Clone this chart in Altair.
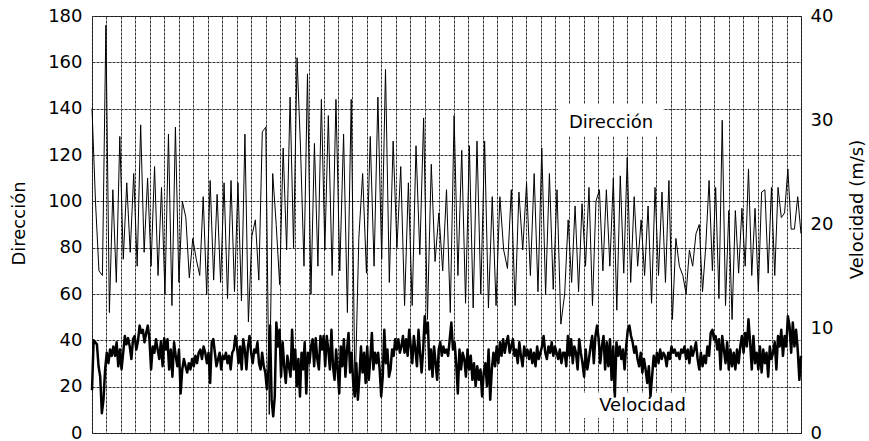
import altair as alt
import pandas as pd

# ---------------- data ----------------
# Dirección (left axis, degrees) - six consecutive stretches of equal duration
dir_seg1 = [140, 100, 70, 68, 176, 52, 105, 65, 128, 75, 108, 78, 112, 72, 133, 78, 110, 72,
            115, 68, 106, 60, 129, 55, 132, 65, 100, 93, 67, 84, 75, 68, 102, 60]
dir_seg2 = [109, 66, 103, 65, 108, 58, 109, 61, 108, 57, 129, 48, 85, 92, 66, 130, 132, 8,
            112, 90, 64, 123, 79, 145, 80, 162, 123, 72, 155, 60, 125, 72, 144, 79]
dir_seg3 = [137, 68, 144, 70, 129, 52, 144, 16, 84, 112, 69, 128, 72, 145, 75, 157, 65, 126,
            80, 115, 55, 108, 55, 124, 77, 136, 49, 116, 74, 95, 70]
dir_seg4 = [105, 52, 137, 68, 122, 56, 124, 54, 126, 60, 126, 54, 102, 55, 102, 79, 71, 105,
            55, 104, 79, 108, 68, 112, 61, 123, 60, 112, 62, 105, 47]
dir_seg5 = [60, 92, 65, 98, 61, 99, 72, 106, 55, 100, 105, 70, 105, 72, 110, 53, 111, 69, 119,
            65, 102, 72, 92, 68, 98, 56, 106, 68, 104, 65, 109, 49, 84, 72]
dir_seg6 = [68, 60, 79, 72, 86, 90, 61, 81, 109, 70, 106, 58, 135, 55, 96, 49, 96, 69, 97, 72,
            114, 68, 97, 61, 104, 105, 69, 106, 68, 106, 93, 95, 114, 88, 88, 102, 86]

# Velocidad (right axis, m/s) - same six stretches
vel_seg1 = [4.1, 8.9, 8.7, 8.5, 6.4, 5.4, 1.9, 3.2, 6.1, 7.7, 6.7, 8.0, 7.4, 8.3, 7.4, 8.7, 6.4,
            8.0, 6.1, 7.7, 9.3, 8.5, 9.1, 8.3, 7.1, 9.0, 9.3, 8.0, 8.8, 10.3, 9.6, 9.9, 8.7, 9.6,
            10.3, 9.0, 6.1, 8.3, 7.7, 9.0, 8.0, 7.1, 8.8, 6.4, 9.1, 8.0, 9.0, 6.1, 8.0, 5.4, 8.7,
            7.4, 6.4, 8.0, 3.8, 6.1, 7.1, 6.4, 5.8, 6.7, 6.1, 7.1, 6.4, 7.4, 6.7, 7.7, 8.0, 7.1,
            8.3, 7.7, 6.7, 7.7]
vel_seg2 = [4.8, 8.7, 9.0, 7.7, 6.4, 7.1, 7.7, 6.1, 7.4, 7.1, 7.7, 6.7, 7.4, 6.1, 7.7, 8.0, 9.3,
            8.3, 6.7, 8.3, 6.1, 9.0, 8.0, 6.1, 8.3, 9.3, 7.7, 6.7, 8.0, 7.7, 8.7, 6.7, 6.1, 7.7,
            6.4, 5.8, 4.2, 6.1, 10.3, 3.2, 1.6, 3.5, 10.6, 8.3, 9.9, 5.4, 8.7, 6.4, 4.8, 7.4, 6.4,
            5.4, 9.9, 6.1, 8.0, 4.5, 7.1, 3.5, 7.7, 6.1, 8.7, 3.8, 7.7, 6.7, 8.3, 9.0, 6.4, 9.1,
            7.1, 6.1, 9.3, 8.0, 9.3, 6.4, 9.3]
vel_seg3 = [8.0, 6.1, 9.9, 6.4, 5.1, 8.0, 6.1, 3.8, 8.3, 6.4, 9.0, 5.4, 8.0, 9.6, 5.8, 7.7, 4.8,
            3.5, 6.7, 3.2, 5.4, 8.3, 5.8, 7.7, 4.8, 8.3, 5.1, 7.1, 9.6, 6.1, 7.7, 6.7, 7.7, 6.1,
            3.5, 5.4, 9.9, 6.7, 8.0, 5.4, 6.1, 8.0, 7.4, 9.0, 8.0, 9.0, 7.7, 8.3, 9.3, 7.7, 9.0,
            7.4, 9.9, 8.3, 6.7, 9.3, 8.0, 6.4, 9.9, 7.7, 5.8, 8.0, 11.2, 9.6, 10.6, 6.1, 8.0, 5.4,
            8.3, 6.7, 5.1, 8.0, 8.7, 7.4, 8.3, 7.7]
vel_seg4 = [8.0, 7.4, 9.0, 10.6, 8.0, 8.7, 6.7, 3.8, 8.0, 6.1, 7.7, 7.1, 5.4, 8.0, 6.1, 7.4, 5.1,
            6.7, 4.5, 6.4, 5.1, 6.1, 3.5, 5.8, 6.7, 4.5, 8.0, 3.2, 6.1, 7.7, 6.4, 8.3, 6.7, 8.7,
            7.4, 9.0, 7.7, 8.7, 9.3, 7.7, 8.3, 9.0, 7.4, 8.0, 6.7, 8.7, 7.4, 6.4, 8.3, 7.4, 8.0,
            7.1, 8.0, 6.7, 7.7, 6.4, 8.3, 7.1, 7.7, 8.3, 9.3, 7.7, 7.1, 8.3, 7.7, 8.7, 7.4, 8.3,
            7.7, 7.1, 8.0, 6.7, 7.7]
vel_seg5 = [7.7, 6.4, 9.3, 7.4, 9.0, 6.7, 8.3, 7.7, 6.1, 9.0, 7.7, 6.7, 5.4, 8.0, 6.1, 7.1, 8.3,
            9.3, 6.7, 9.3, 10.3, 9.0, 6.7, 8.3, 9.3, 6.1, 8.7, 6.4, 9.0, 5.1, 8.3, 3.5, 8.7, 7.4,
            8.3, 7.1, 8.0, 6.1, 8.3, 9.9, 10.3, 9.3, 8.7, 7.7, 8.3, 7.1, 6.4, 7.7, 5.8, 7.1, 6.1,
            4.8, 6.4, 3.5, 5.4, 7.4, 6.4, 7.7, 6.7, 8.0, 7.1, 7.7, 7.4, 6.4, 7.7, 7.1, 8.3, 7.7,
            8.0, 7.4, 7.7, 7.1, 8.0]
vel_seg6 = [7.7, 8.3, 7.1, 8.0, 6.7, 8.3, 7.4, 8.0, 8.7, 7.1, 6.1, 7.7, 6.4, 7.4, 6.7, 8.3, 7.4,
            9.6, 9.9, 9.0, 9.3, 8.0, 9.0, 6.1, 9.3, 8.0, 6.7, 8.7, 6.1, 8.0, 6.4, 7.7, 6.1, 8.0,
            6.7, 8.3, 9.3, 7.7, 9.6, 8.3, 10.9, 8.7, 6.1, 9.3, 6.7, 7.7, 6.1, 8.3, 5.8, 8.0, 6.7,
            7.7, 5.4, 8.3, 7.1, 7.7, 8.7, 6.1, 9.3, 8.3, 9.9, 7.4, 9.3, 8.3, 11.2, 10.3, 7.7,
            10.6, 8.3, 9.9, 8.0, 5.1, 7.4]

dir_segments = [dir_seg1, dir_seg2, dir_seg3, dir_seg4, dir_seg5, dir_seg6]
vel_segments = [vel_seg1, vel_seg2, vel_seg3, vel_seg4, vel_seg5, vel_seg6]

T_TOTAL = 49  # number of grid intervals along the time axis

y_left_ticks = [0, 20, 40, 60, 80, 100, 120, 140, 160, 180]
y_right_ticks = [0, 10, 20, 30, 40]
x_grid = list(range(0, T_TOTAL + 1))

# in-plot labels (left-axis units)
labels = ["Dirección", "Velocidad"]
label_t = [35.87, 38.05]
label_v = [131.8, 9.6]
box_t1 = [32.2, 33.7]
box_t2 = [39.5, 41.8]
box_v1 = [128.0, 6.5]
box_v2 = [142.0, 17.3]


def build(segments, field):
    span = T_TOTAL / len(segments)
    rows = []
    for k, seg in enumerate(segments):
        n = len(seg)
        denom = n - 1 if k == len(segments) - 1 else n
        for j, v in enumerate(seg):
            rows.append({"t": k * span + j * span / denom, field: v})
    return pd.DataFrame(rows)


dir_df = build(dir_segments, "dir")
vel_df = build(vel_segments, "vel")
ann_df = pd.DataFrame({"label": labels, "t": label_t, "v": label_v,
                       "t1": box_t1, "t2": box_t2, "v1": box_v1, "v2": box_v2})

FONT = "DejaVu Sans"
GRID = "#333333"

x_scale = alt.Scale(domain=[0, T_TOTAL], nice=False, zero=False)
x_axis = alt.Axis(values=x_grid, grid=True, gridDash=[3, 1], gridColor=GRID,
                  gridWidth=1, labels=False, ticks=False, domain=False, title=None)
dir_scale = alt.Scale(domain=[0, 180], nice=False, zero=True)
vel_scale = alt.Scale(domain=[0, 40], nice=False, zero=True)

dir_line = alt.Chart(dir_df).mark_line(color="black", strokeWidth=1.0, strokeJoin="round").encode(
    x=alt.X("t:Q", scale=x_scale, axis=x_axis),
    y=alt.Y("dir:Q", scale=dir_scale,
            axis=alt.Axis(values=y_left_ticks, grid=True, gridDash=[3, 1], gridColor=GRID,
                          gridWidth=1, domain=False, ticks=False, labelPadding=10,
                          labelFont=FONT, labelFontSize=18, labelColor="black",
                          title="Dirección", titleFont=FONT, titleFontSize=18,
                          titleFontWeight="normal", titleColor="black",
                          titleAngle=270, titleX=-73, titleY=207,
                          titleAlign="center", titleBaseline="middle")),
)

vel_line = alt.Chart(vel_df).mark_line(color="black", strokeWidth=2.5, strokeJoin="round").encode(
    x=alt.X("t:Q", scale=x_scale, axis=x_axis),
    y=alt.Y("vel:Q", scale=vel_scale,
            axis=alt.Axis(orient="right", values=y_right_ticks, grid=False, domain=False,
                          ticks=False, labelPadding=9, labelFont=FONT, labelFontSize=18,
                          labelColor="black", title="Velocidad (m/s)", titleFont=FONT,
                          titleFontSize=18, titleFontWeight="normal", titleColor="black",
                          titleAngle=270, titleX=56, titleY=193,
                          titleAlign="center", titleBaseline="middle")),
)

boxes = alt.Chart(ann_df).mark_rect(color="white").encode(
    x=alt.X("t1:Q", scale=x_scale, axis=x_axis),
    x2="t2:Q",
    y=alt.Y("v1:Q", scale=dir_scale, axis=None),
    y2="v2:Q",
)

texts = alt.Chart(ann_df).mark_text(font=FONT, fontSize=18, color="black",
                                    baseline="alphabetic", align="center").encode(
    x=alt.X("t:Q", scale=x_scale, axis=x_axis),
    y=alt.Y("v:Q", scale=dir_scale, axis=None),
    text="label:N",
)

chart = alt.layer(boxes, texts, dir_line, vel_line).resolve_scale(
    y="independent"
).properties(
    width=709, height=417,
    autosize=alt.AutoSizeParams(type="none"),
    padding={"left": 92, "top": 16, "right": 68, "bottom": 8},
    background="white",
).configure_view(stroke="black", strokeWidth=1)

chart.save("out.html", embed_options={"renderer": "svg", "actions": False})
